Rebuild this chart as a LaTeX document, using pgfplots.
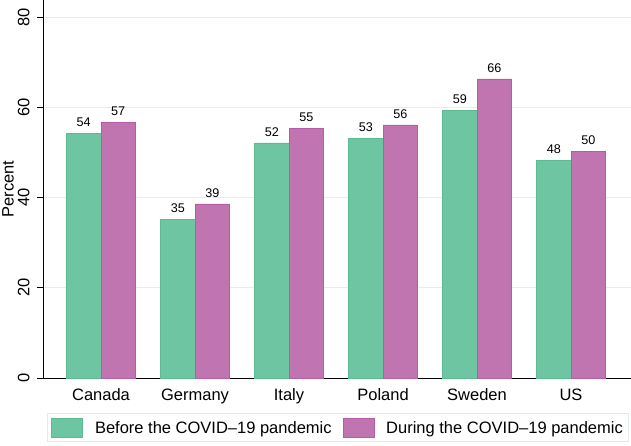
\documentclass[border=0pt]{standalone}
\usepackage{fontspec}
\setmainfont{Liberation Sans}
\usepackage{pgfplots}
\pgfplotsset{compat=1.18}
\definecolor{cgreen}{HTML}{6DC6A1}
\definecolor{cgreenl}{HTML}{5CBB93}
\definecolor{cpurple}{HTML}{C074B0}
\definecolor{cpurplel}{HTML}{B65CA6}
\definecolor{gridc}{HTML}{E3EEF0}
\definecolor{legc}{HTML}{E1EBEE}
\begin{document}
\begin{tikzpicture}
\begin{axis}[
  at={(43pt,67pt)}, anchor=south west,
  scale only axis, width=588pt, height=378pt,
  xmin=-0.617, xmax=5.638, ymin=0, ymax=83.8,
  axis x line*=bottom, axis y line*=left,
  axis line style={black, line width=0.8pt},
  ybar=0pt, bar width=0.367,
  xtick={0,1,2,3,4,5},
  xticklabels={Canada,Germany,Italy,Poland,Sweden,US},
  x tick style={draw=none},
  ytick={0,20,40,60,80},
  y tick style={black, line width=0.8pt},
  tick align=outside, major tick length=6pt,
  ymajorgrids, grid style={gridc, line width=0.8pt},
  yticklabel style={xshift=-4pt, rotate=90, anchor=south, font=\fontsize{16.5}{18}\selectfont},
  xticklabel style={font=\fontsize{16.5}{18}\selectfont, yshift=-1pt},
  /pgf/number format/assume math mode=true,
  ylabel={Percent},
  every axis y label/.style={at={(axis description cs:0,0.5)}, xshift=-27pt, rotate=90, anchor=south, inner sep=2pt, font=\fontsize{16.5}{18}\selectfont},
  nodes near coords,
  every node near coord/.append style={font=\fontsize{12.6}{14}\selectfont, yshift=3pt},
  nodes near coords style={/pgf/number format/fixed, /pgf/number format/precision=0},
  legend columns=2,
  legend style={at={(axis description cs:0.0068,-0.093)}, anchor=north west,
    draw=legc, line width=0.8pt, font=\fontsize{16.5}{18}\selectfont,
    inner xsep=4pt, inner ysep=4pt,
    /tikz/every odd column/.append style={column sep=10pt},
    /tikz/every even column/.append style={column sep=9pt}},
  legend image code/.code={\draw[#1, line width=0.6pt] (0pt,-9.5pt) rectangle (31pt,10pt);},
  clip=false,
]
\addplot[fill=cgreen, draw=cgreenl, line width=0.6pt] coordinates {(0,54.2) (1,35.1) (2,52.1) (3,53.1) (4,59.4) (5,48.3)};
\addplot[fill=cpurple, draw=cpurplel, line width=0.6pt] coordinates {(0,56.6) (1,38.6) (2,55.4) (3,56.1) (4,66.3) (5,50.2)};
\legend{Before the COVID--19 pandemic, During the COVID--19 pandemic}
\end{axis}
\pgfresetboundingbox
\path (0,0) rectangle (631pt,445pt);
\end{tikzpicture}
\end{document}
